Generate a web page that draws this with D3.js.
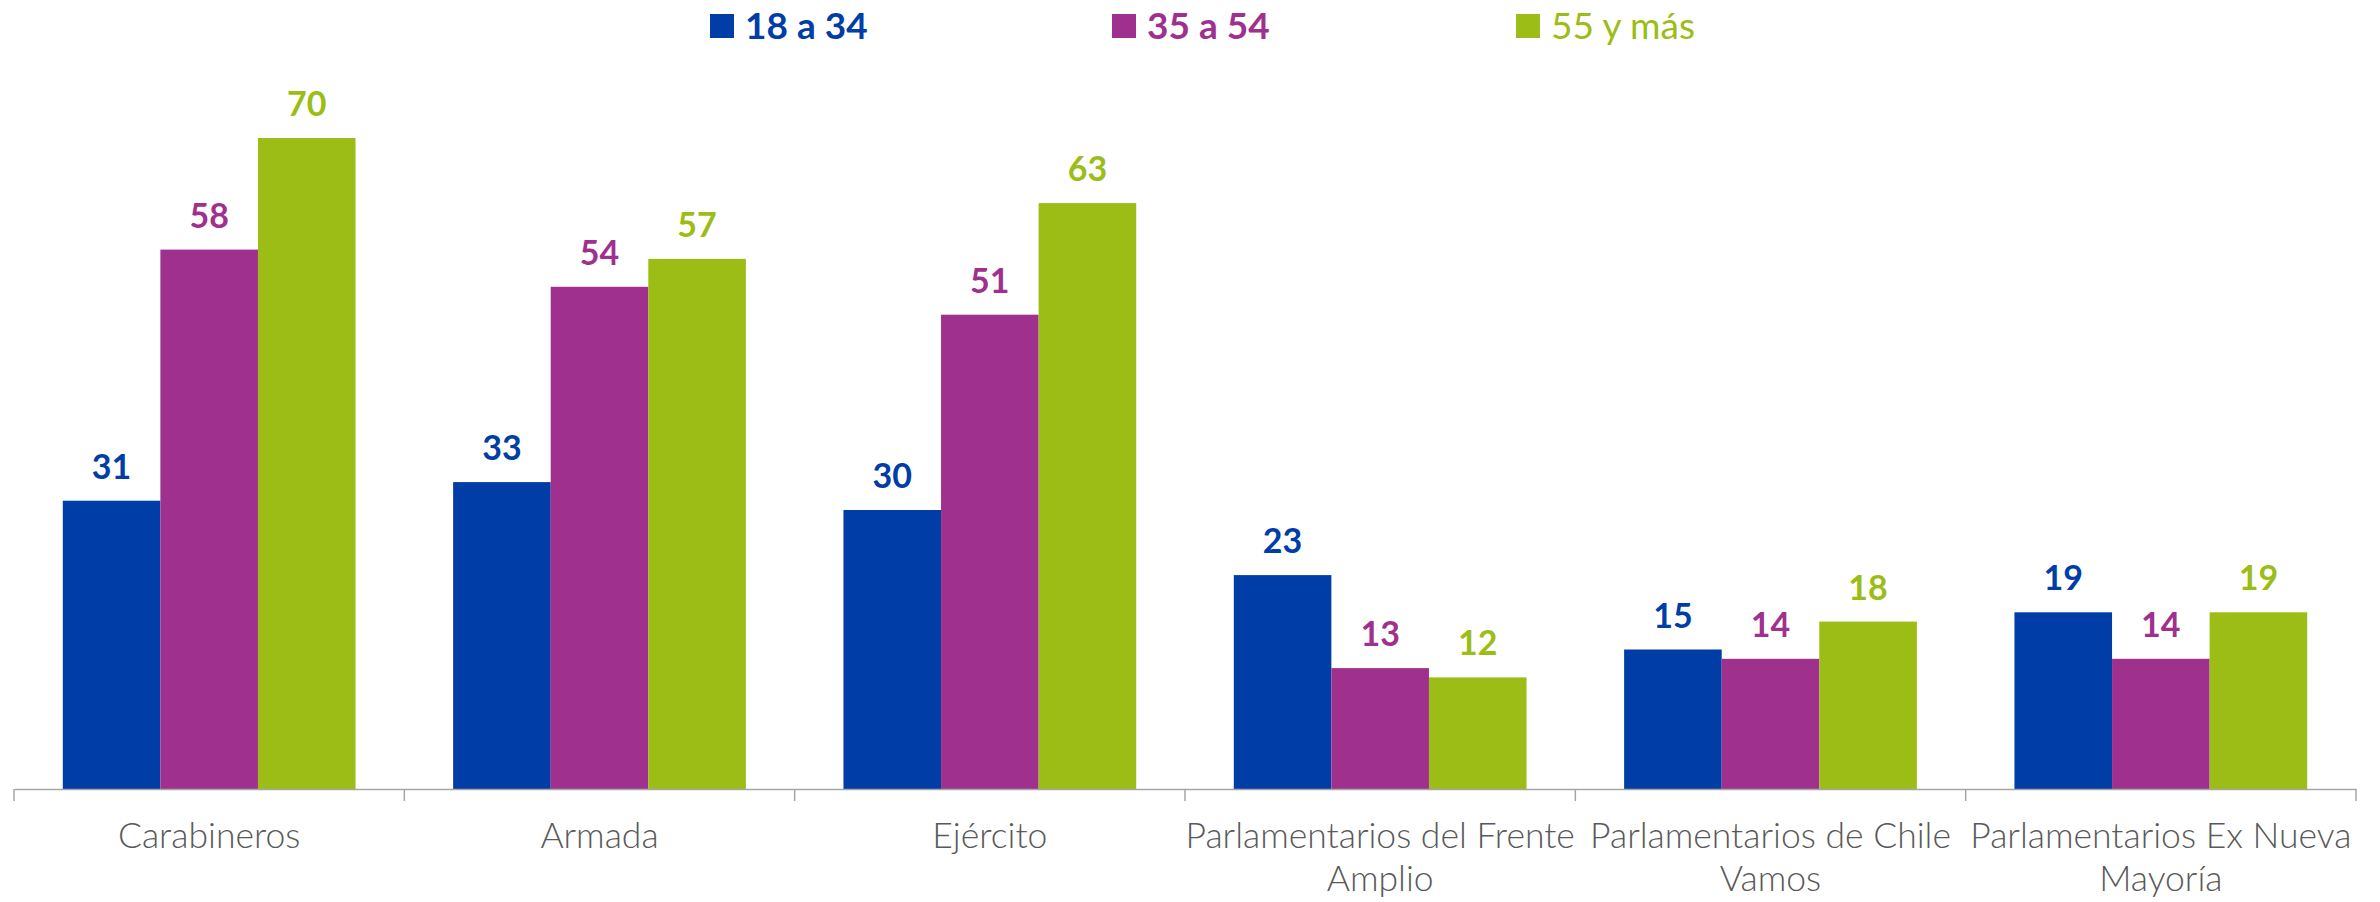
<!DOCTYPE html>
<html>
<head>
<meta charset="utf-8">
<script src="https://cdn.jsdelivr.net/npm/d3@7"></script>
<style>
  body { margin: 0; background: #fff; }
  svg { display: block; }
</style>
</head>
<body>
<div id="plot"></div>
<script>
// data
const categories = ["Carabineros", "Armada", "Ejército",
  "Parlamentarios del Frente Amplio", "Parlamentarios de Chile Vamos", "Parlamentarios Ex Nueva Mayoría"];
const tickLabels = [
  ["Carabineros"], ["Armada"], ["Ejército"],
  ["Parlamentarios del Frente", "Amplio"],
  ["Parlamentarios de Chile", "Vamos"],
  ["Parlamentarios Ex Nueva", "Mayoría"]
];
const seriesNames = ["18 a 34", "35 a 54", "55 y más"];
const age18to34 = [31, 33, 30, 23, 15, 19];
const age35to54 = [58, 54, 51, 13, 14, 14];
const age55plus = [70, 57, 63, 12, 18, 19];
const colors = ["#003DA6", "#A0308E", "#9BBD15"];

const series = [age18to34, age35to54, age55plus];

const W = 2380, H = 902;
const margin = {top: 45, right: 24, bottom: 113, left: 14};

const svg = d3.select("#plot")
  .append("svg")
  .attr("width", W)
  .attr("height", H);

// scales
const x = d3.scaleBand()
  .domain(categories)
  .range([margin.left, W - margin.right])
  .paddingInner(0)
  .paddingOuter(0);

const xSub = d3.scaleBand()
  .domain(d3.range(series.length))
  .range([0, x.bandwidth()])
  .paddingOuter(0.5)
  .paddingInner(0);

const y = d3.scaleLinear()
  .domain([0, 80])
  .range([H - margin.bottom, margin.top]);

// bars
series.forEach((vals, si) => {
  const g = svg.append("g");
  g.selectAll("rect")
    .data(vals)
    .join("rect")
      .attr("x", (d, i) => x(categories[i]) + xSub(si))
      .attr("y", d => y(d))
      .attr("width", xSub.bandwidth())
      .attr("height", d => y(0) - y(d))
      .attr("fill", colors[si]);

  g.selectAll("text")
    .data(vals)
    .join("text")
      .attr("x", (d, i) => x(categories[i]) + xSub(si) + xSub.bandwidth() / 2)
      .attr("y", d => y(d) - 22)
      .attr("text-anchor", "middle")
      .style("font-family", "Lato, 'Open Sans', sans-serif")
      .style("font-weight", "bold")
      .style("font-size", "34px")
      .style("fill", colors[si])
      .text(d => d);
});

// x axis
const xAxis = svg.append("g")
  .attr("transform", `translate(0,${y(0)})`)
  .call(d3.axisBottom(x).tickSize(0).tickFormat(""));
xAxis.select(".domain").attr("stroke", "#a6a6a6").attr("stroke-width", 1.5);

// tick marks at category boundaries
const bounds = categories.map(c => x(c)).concat([x(categories[categories.length - 1]) + x.bandwidth()]);
svg.append("g")
  .selectAll("line")
  .data(bounds)
  .join("line")
    .attr("x1", d => d).attr("x2", d => d)
    .attr("y1", y(0)).attr("y2", y(0) + 12)
    .attr("stroke", "#a6a6a6")
    .attr("stroke-width", 1.5);

// category labels
const labels = svg.append("g")
  .selectAll("text")
  .data(categories)
  .join("text")
    .attr("text-anchor", "middle")
    .attr("y", y(0) + 59)
    .style("font-family", "Lato, sans-serif")
    .style("font-weight", 300)
    .style("font-size", "35.5px")
    .style("fill", "#595959");
labels.selectAll("tspan")
  .data((d, i) => tickLabels[i].map(t => ({t, c: d})))
  .join("tspan")
    .attr("x", d => x(d.c) + x.bandwidth() / 2)
    .attr("dy", (d, i) => i === 0 ? 0 : 43)
    .text(d => d.t);

// legend
const legendX = [710, 1112, 1516];
const legendWeight = ["bold", "bold", "normal"];
const legend = svg.append("g")
  .selectAll("g")
  .data(seriesNames)
  .join("g")
    .attr("transform", (d, i) => `translate(${legendX[i]},0)`);
legend.append("rect")
  .attr("x", 0).attr("y", 14)
  .attr("width", 24).attr("height", 24)
  .attr("fill", (d, i) => colors[i]);
legend.append("text")
  .attr("x", 35)
  .attr("y", 39)
  .style("font-family", "Lato, sans-serif")
  .style("font-size", "37px")
  .style("font-weight", (d, i) => legendWeight[i])
  .style("fill", (d, i) => colors[i])
  .text(d => d);
</script>
</body>
</html>
